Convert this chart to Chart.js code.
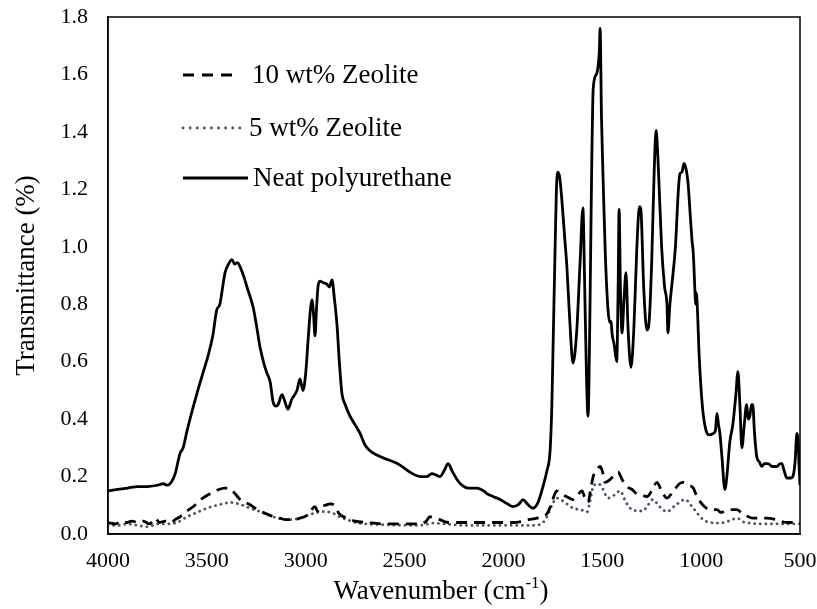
<!DOCTYPE html>
<html>
<head>
<meta charset="utf-8">
<script src="https://cdn.jsdelivr.net/npm/chart.js@4/dist/chart.umd.min.js"></script>
<style>
html,body{margin:0;padding:0;background:#fff;}
#wrap{width:817px;height:609px;position:relative;}
</style>
</head>
<body>
<div id="wrap"><canvas id="c" width="817" height="609"></canvas></div>
<script>
// ---- data ----
const seriesLabels = ["10 wt% Zeolite", "5 wt% Zeolite", "Neat polyurethane"];
const xTicks = [4000, 3500, 3000, 2500, 2000, 1500, 1000, 500];
const yTicks = [0, 0.2, 0.4, 0.6, 0.8, 1.0, 1.2, 1.4, 1.6, 1.8];

const neatWavenumber = [4000,3950,3900,3850,3800,3750,3720,3700,3680,3660,3636,3620,3600,3570,3550,3520,3494,3470,3450,3434,3420,3408,3390,3373,3360,3345,3332,3310,3297,3266,3250,3231,3210,3196,3180,3165,3150,3140,3120,3105,3090,3070,3044,3029,3014,3000,2988,2975,2968,2960,2953,2945,2938,2928,2910,2893,2880,2867,2855,2842,2830,2817,2800,2776,2750,2725,2700,2675,2640,2590,2550,2523,2472,2420,2387,2362,2340,2321,2300,2280,2260,2235,2210,2179,2150,2134,2100,2083,2050,2017,1980,1951,1920,1901,1880,1850,1825,1800,1780,1764,1755,1749,1740,1732,1724,1715,1703,1690,1679,1665,1648,1640,1628,1612,1598,1590,1580,1572,1562,1555,1546,1530,1521,1515,1511,1504,1496,1485,1471,1461,1455,1451,1440,1427,1420,1415,1408,1400,1390,1380,1370,1355,1340,1325,1312,1305,1290,1274,1262,1250,1238,1228,1218,1200,1185,1173,1168,1158,1147,1130,1115,1107,1097,1087,1076,1066,1056,1046,1040,1031,1028,1025,1020,1010,1000,990,975,960,939,928,920,912,905,895,880,870,855,840,825,814,804,794,782,770,762,754,745,739,730,719,705,693,680,662,640,617,600,592,580,567,545,536,525,516,510,505,500];
const neatValues = [0.15,0.155,0.16,0.165,0.165,0.17,0.175,0.17,0.18,0.21,0.28,0.30,0.36,0.44,0.49,0.56,0.62,0.69,0.78,0.80,0.86,0.91,0.94,0.955,0.94,0.945,0.93,0.89,0.86,0.79,0.73,0.65,0.59,0.56,0.53,0.46,0.445,0.45,0.485,0.46,0.435,0.47,0.50,0.54,0.50,0.56,0.675,0.79,0.815,0.76,0.69,0.79,0.86,0.88,0.875,0.87,0.86,0.885,0.82,0.73,0.60,0.49,0.45,0.41,0.38,0.35,0.31,0.29,0.275,0.26,0.25,0.24,0.215,0.20,0.20,0.21,0.205,0.20,0.22,0.245,0.22,0.19,0.17,0.16,0.16,0.16,0.15,0.14,0.13,0.12,0.105,0.095,0.105,0.12,0.105,0.09,0.11,0.165,0.22,0.29,0.45,0.65,0.95,1.20,1.26,1.24,1.15,1.03,0.93,0.75,0.595,0.62,0.72,0.95,1.135,0.90,0.55,0.41,0.80,1.20,1.55,1.60,1.63,1.68,1.76,1.45,1.24,0.98,0.78,0.735,0.74,0.70,0.66,0.60,0.85,1.13,0.85,0.70,0.82,0.91,0.72,0.58,0.72,1.00,1.14,1.13,0.85,0.71,0.75,0.95,1.25,1.405,1.30,1.00,0.86,0.80,0.70,0.80,0.875,1.00,1.20,1.255,1.26,1.29,1.27,1.22,1.12,1.02,0.98,0.84,0.80,0.84,0.80,0.62,0.50,0.42,0.36,0.345,0.35,0.36,0.42,0.38,0.35,0.27,0.155,0.20,0.32,0.38,0.48,0.565,0.45,0.30,0.38,0.45,0.40,0.41,0.45,0.45,0.35,0.27,0.25,0.235,0.245,0.245,0.235,0.235,0.245,0.245,0.22,0.195,0.195,0.20,0.25,0.35,0.33,0.24,0.17];

const zeo10Wavenumber = [4000,3960,3930,3905,3880,3850,3822,3790,3760,3740,3710,3680,3660,3636,3600,3570,3530,3484,3440,3410,3398,3370,3332,3290,3231,3180,3130,3100,3064,3030,2994,2970,2953,2940,2925,2900,2877,2855,2830,2791,2750,2690,2600,2472,2420,2390,2372,2350,2321,2280,2200,2100,2000,1950,1900,1875,1830,1800,1780,1760,1740,1730,1710,1680,1648,1625,1603,1590,1572,1560,1546,1530,1511,1500,1486,1460,1440,1420,1400,1375,1350,1325,1300,1274,1250,1224,1200,1173,1140,1110,1092,1060,1040,1021,990,955,920,900,880,850,819,790,760,739,700,668,620,567,530,500];
const zeo10Values = [0.04,0.035,0.045,0.04,0.045,0.04,0.045,0.035,0.055,0.04,0.045,0.04,0.05,0.06,0.08,0.095,0.12,0.14,0.155,0.16,0.16,0.15,0.12,0.105,0.08,0.065,0.055,0.05,0.05,0.055,0.065,0.085,0.095,0.08,0.095,0.10,0.105,0.10,0.07,0.055,0.045,0.04,0.035,0.035,0.035,0.045,0.06,0.055,0.05,0.04,0.04,0.04,0.04,0.04,0.045,0.05,0.055,0.065,0.07,0.10,0.14,0.15,0.14,0.13,0.12,0.135,0.15,0.13,0.11,0.15,0.20,0.22,0.235,0.22,0.18,0.19,0.205,0.215,0.19,0.165,0.155,0.14,0.135,0.13,0.15,0.18,0.15,0.125,0.15,0.175,0.18,0.17,0.16,0.13,0.10,0.085,0.085,0.075,0.08,0.085,0.085,0.07,0.06,0.055,0.055,0.055,0.05,0.04,0.04,0.04];

const zeo5Wavenumber = [4000,3950,3900,3850,3800,3750,3700,3650,3600,3550,3500,3450,3400,3383,3340,3282,3220,3165,3120,3080,3030,2978,2940,2902,2862,2830,2791,2750,2690,2600,2472,2400,2356,2300,2200,2100,2000,1900,1850,1800,1780,1755,1730,1700,1670,1648,1610,1577,1560,1546,1520,1500,1471,1440,1410,1380,1345,1295,1270,1244,1210,1173,1130,1082,1040,990,950,905,860,819,780,753,700,600,500];
const zeo5Values = [0.03,0.03,0.035,0.03,0.025,0.035,0.035,0.04,0.06,0.075,0.09,0.10,0.108,0.11,0.105,0.09,0.075,0.06,0.052,0.05,0.055,0.068,0.075,0.078,0.072,0.06,0.05,0.04,0.035,0.032,0.03,0.032,0.038,0.035,0.03,0.03,0.03,0.03,0.03,0.04,0.06,0.10,0.125,0.115,0.10,0.09,0.085,0.077,0.12,0.165,0.175,0.16,0.125,0.135,0.15,0.11,0.083,0.08,0.10,0.12,0.095,0.078,0.10,0.12,0.09,0.05,0.04,0.038,0.045,0.055,0.04,0.038,0.035,0.035,0.035];

function pts(xs, ys){ return xs.map((x,i)=>({x:x, y:ys[i]})); }

const FONT = "'Liberation Serif','Times New Roman',serif";

const frame = {
  id:'frame',
  afterDatasetsDraw(chart){
    const {ctx, chartArea:a} = chart;
    ctx.save();
    ctx.strokeStyle = '#000';
    ctx.lineWidth = 1.5;
    ctx.strokeRect(a.left, a.top, a.right-a.left, a.bottom-a.top);
    ctx.restore();
  }
};

const legendPlugin = {
  id:'customLegend',
  afterDraw(chart){
    const {ctx} = chart;
    const rows = [
      {ds:0, y:75, x1:238, tx:252},
      {ds:1, y:128, x1:245, tx:249},
      {ds:2, y:178, x1:248, tx:253}
    ];
    ctx.save();
    rows.forEach(r=>{
      const ds = chart.data.datasets[r.ds];
      ctx.beginPath();
      ctx.strokeStyle = ds.borderColor;
      ctx.lineWidth = ds.borderWidth;
      ctx.setLineDash(r.ds===0 ? [11,8] : (r.ds===1 ? [0.1,7] : []));
      ctx.lineCap = ds.borderCapStyle || 'butt';
      ctx.moveTo(183, r.y); ctx.lineTo(r.x1, r.y);
      ctx.stroke();
      ctx.setLineDash([]);
      ctx.fillStyle = '#000';
      ctx.font = "27px " + FONT;
      ctx.textBaseline = 'middle';
      ctx.textAlign = 'left';
      ctx.fillText(ds.label, r.tx, r.y + 1);
    });
    ctx.restore();
  }
};

const xTitle = {
  id:'xTitle',
  afterDraw(chart){
    const {ctx} = chart;
    ctx.save();
    ctx.fillStyle = '#000';
    ctx.textBaseline = 'alphabetic';
    const big = "27px " + FONT, small = "17px " + FONT;
    const t1 = "Wavenumber (cm", t2 = "-1", t3 = ")";
    ctx.font = big; const w1 = ctx.measureText(t1).width, w3 = ctx.measureText(t3).width;
    ctx.font = small; const w2 = ctx.measureText(t2).width;
    const total = w1+w2+w3;
    let x = 441 - total/2;
    const base = 599;
    ctx.font = big; ctx.fillText(t1, x, base); x += w1;
    ctx.font = small; ctx.fillText(t2, x, base-11); x += w2;
    ctx.font = big; ctx.fillText(t3, x, base);
    ctx.restore();
  }
};

new Chart(document.getElementById('c'), {
  type:'line',
  data:{
    datasets:[
      {label:seriesLabels[0], data:pts(zeo10Wavenumber, zeo10Values), borderColor:'#000000', borderWidth:2.8, borderDash:[11,7], pointRadius:0, fill:false, cubicInterpolationMode:'monotone'},
      {label:seriesLabels[1], data:pts(zeo5Wavenumber, zeo5Values), borderColor:'#44546A', borderWidth:2.8, borderDash:[0.1,5.5], borderCapStyle:'round', pointRadius:0, fill:false, cubicInterpolationMode:'monotone'},
      {label:seriesLabels[2], data:pts(neatWavenumber, neatValues), borderColor:'#000000', borderWidth:2.8, pointRadius:0, fill:false, cubicInterpolationMode:'monotone'}
    ]
  },
  options:{
    responsive:false,
    animation:false,
    devicePixelRatio:1,
    layout:{padding:{top:17, right:17, left:0, bottom:0}},
    plugins:{legend:{display:false}, tooltip:{enabled:false}},
    scales:{
      x:{
        type:'linear', reverse:true, min:500, max:4000,
        afterBuildTicks(s){ s.ticks = xTicks.map(v=>({value:v})); },
        afterFit(s){ s.height = 75; s.paddingLeft = 0; s.paddingRight = 0; },
        grid:{display:false, drawTicks:false},
        border:{display:true, color:'#000', width:1.5},
        ticks:{font:{family:FONT, size:22}, color:'#000', padding:14, maxRotation:0, autoSkip:false, callback:v=>String(v)}
      },
      y:{
        min:0, max:1.8,
        afterBuildTicks(s){ s.ticks = yTicks.map(v=>({value:v})); },
        afterFit(s){ s.width = 108; s.paddingTop = 0; s.paddingBottom = 0; },
        grid:{display:false, drawTicks:false},
        border:{display:true, color:'#000', width:1.5},
        ticks:{font:{family:FONT, size:22}, color:'#000', padding:20, autoSkip:false, callback:v=>Number(v).toFixed(1)},
        title:{display:true, text:'Transmittance (%)', font:{family:FONT, size:27}, color:'#000', padding:{top:11,bottom:0}}
      }
    }
  },
  plugins:[frame, legendPlugin, xTitle]
});
</script>
</body>
</html>
